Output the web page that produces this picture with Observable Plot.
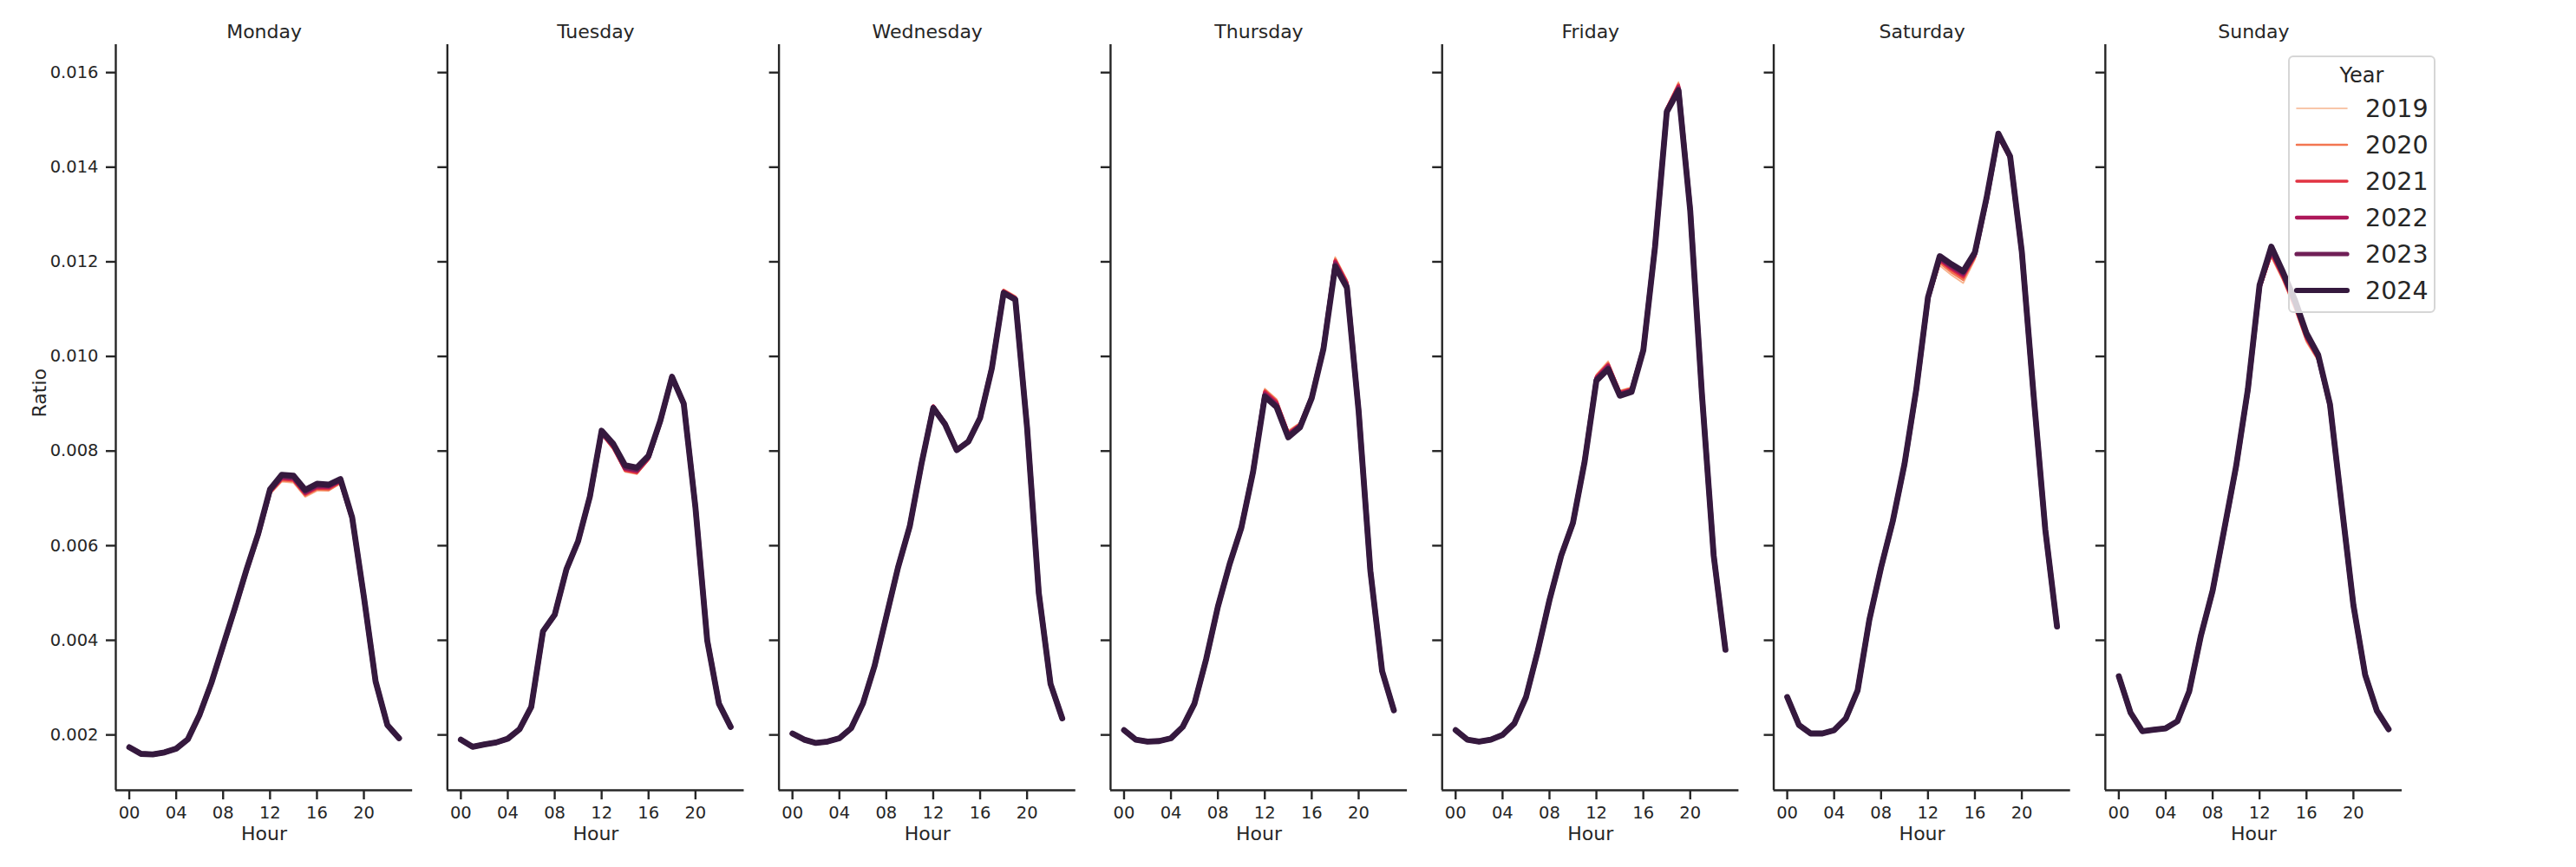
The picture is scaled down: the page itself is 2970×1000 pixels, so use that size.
<!DOCTYPE html>
<html><head><meta charset="utf-8">
<script src="https://cdn.jsdelivr.net/npm/d3@7"></script>
<script src="https://cdn.jsdelivr.net/npm/@observablehq/plot@0.6"></script>
<style>
body{margin:0;background:#fff;}
#wrap{position:relative;width:2970px;height:1000px;font-family:"DejaVu Sans";color:#262626;}
#wrap svg{display:block;}
#legend{position:absolute;left:2638px;top:64px;width:166px;height:293px;border:2px solid #d6d6d6;border-radius:6px;background:rgba(255,255,255,0.8);}
</style></head><body><div id="wrap"></div>
<script>
const days = ["Monday","Tuesday","Wednesday","Thursday","Friday","Saturday","Sunday"];
const hours = [0,1,2,3,4,5,6,7,8,9,10,11,12,13,14,15,16,17,18,19,20,21,22,23];
const years = [2019,2020,2021,2022,2023,2024];
const yearColors = ["#f6b48f","#f37651","#e13342","#ad1759","#701f57","#35193e"];
const yearWidths = [1.8,2.8,3.8,4.8,5.8,6.8];
const xTicks = [0,4,8,12,16,20];
const xTickLabels = ["00","04","08","12","16","20"];
const yTicks = [0.002,0.004,0.006,0.008,0.010,0.012,0.014,0.016];
const xDomain = [-1.15,24.15];
const yDomain = [0.00083,0.01659];

// Monday
const mon19 = [0.00175,0.00161,0.00160,0.00164,0.00170,0.00189,0.00240,0.00307,0.00385,0.00464,0.00545,0.00619,0.00709,0.00735,0.00733,0.00703,0.00716,0.00716,0.00731,0.00655,0.00490,0.00314,0.00222,0.00194];
const mon20 = [0.00175,0.00161,0.00160,0.00163,0.00170,0.00190,0.00241,0.00308,0.00386,0.00465,0.00546,0.00620,0.00711,0.00738,0.00736,0.00706,0.00719,0.00718,0.00733,0.00656,0.00490,0.00314,0.00222,0.00194];
const mon21 = [0.00175,0.00160,0.00159,0.00163,0.00171,0.00190,0.00242,0.00309,0.00387,0.00466,0.00547,0.00622,0.00713,0.00741,0.00739,0.00709,0.00722,0.00721,0.00735,0.00657,0.00491,0.00314,0.00222,0.00193];
const mon22 = [0.00174,0.00160,0.00159,0.00163,0.00171,0.00190,0.00242,0.00309,0.00388,0.00467,0.00548,0.00624,0.00715,0.00744,0.00742,0.00712,0.00725,0.00724,0.00737,0.00658,0.00491,0.00313,0.00221,0.00193];
const mon23 = [0.00174,0.00160,0.00159,0.00163,0.00171,0.00191,0.00243,0.00310,0.00388,0.00467,0.00549,0.00625,0.00717,0.00747,0.00745,0.00715,0.00728,0.00727,0.00739,0.00659,0.00492,0.00313,0.00221,0.00193];
const mon24 = [0.00174,0.00160,0.00159,0.00163,0.00171,0.00191,0.00243,0.00310,0.00389,0.00468,0.00550,0.00626,0.00719,0.00750,0.00748,0.00718,0.00731,0.00729,0.00741,0.00660,0.00492,0.00313,0.00221,0.00193];
// Tuesday
const tue19 = [0.00191,0.00176,0.00180,0.00184,0.00191,0.00211,0.00258,0.00417,0.00452,0.00548,0.00608,0.00701,0.00835,0.00803,0.00756,0.00751,0.00781,0.00859,0.00960,0.00905,0.00683,0.00402,0.00267,0.00218];
const tue20 = [0.00191,0.00176,0.00180,0.00184,0.00191,0.00211,0.00258,0.00417,0.00452,0.00548,0.00608,0.00702,0.00836,0.00805,0.00758,0.00753,0.00782,0.00860,0.00959,0.00904,0.00682,0.00402,0.00267,0.00218];
const tue21 = [0.00190,0.00175,0.00180,0.00184,0.00192,0.00211,0.00258,0.00418,0.00453,0.00549,0.00609,0.00702,0.00837,0.00807,0.00760,0.00755,0.00784,0.00861,0.00958,0.00903,0.00682,0.00401,0.00266,0.00217];
const tue22 = [0.00190,0.00175,0.00180,0.00184,0.00192,0.00212,0.00259,0.00418,0.00453,0.00549,0.00609,0.00703,0.00839,0.00810,0.00763,0.00758,0.00786,0.00862,0.00958,0.00902,0.00681,0.00401,0.00266,0.00217];
const tue23 = [0.00190,0.00175,0.00180,0.00184,0.00192,0.00212,0.00259,0.00418,0.00454,0.00550,0.00610,0.00704,0.00841,0.00812,0.00766,0.00761,0.00788,0.00863,0.00957,0.00901,0.00681,0.00401,0.00266,0.00217];
const tue24 = [0.00190,0.00175,0.00180,0.00184,0.00192,0.00212,0.00259,0.00419,0.00454,0.00550,0.00610,0.00704,0.00843,0.00815,0.00770,0.00765,0.00790,0.00864,0.00957,0.00900,0.00680,0.00400,0.00266,0.00217];
// Wednesday
const wed19 = [0.00204,0.00191,0.00183,0.00186,0.00193,0.00213,0.00265,0.00345,0.00449,0.00553,0.00641,0.00775,0.00897,0.00862,0.00806,0.00822,0.00873,0.00982,0.01142,0.01128,0.00856,0.00503,0.00309,0.00236];
const wed20 = [0.00204,0.00190,0.00183,0.00186,0.00193,0.00213,0.00265,0.00345,0.00449,0.00553,0.00641,0.00774,0.00896,0.00861,0.00805,0.00822,0.00872,0.00980,0.01140,0.01126,0.00855,0.00502,0.00309,0.00236];
const wed21 = [0.00203,0.00190,0.00183,0.00186,0.00193,0.00214,0.00266,0.00346,0.00450,0.00554,0.00641,0.00774,0.00895,0.00860,0.00804,0.00821,0.00872,0.00979,0.01139,0.01124,0.00854,0.00502,0.00309,0.00235];
const wed22 = [0.00203,0.00190,0.00183,0.00186,0.00193,0.00214,0.00266,0.00346,0.00450,0.00554,0.00641,0.00774,0.00894,0.00859,0.00803,0.00821,0.00871,0.00978,0.01137,0.01123,0.00852,0.00501,0.00308,0.00235];
const wed23 = [0.00203,0.00190,0.00183,0.00186,0.00193,0.00214,0.00266,0.00346,0.00450,0.00554,0.00641,0.00773,0.00892,0.00858,0.00802,0.00820,0.00870,0.00976,0.01135,0.01121,0.00851,0.00501,0.00308,0.00235];
const wed24 = [0.00203,0.00190,0.00183,0.00186,0.00193,0.00214,0.00266,0.00346,0.00450,0.00554,0.00641,0.00773,0.00891,0.00857,0.00802,0.00820,0.00870,0.00975,0.01134,0.01120,0.00850,0.00500,0.00308,0.00235];
// Thursday
const thu19 = [0.00211,0.00191,0.00186,0.00187,0.00193,0.00216,0.00265,0.00359,0.00470,0.00561,0.00640,0.00762,0.00932,0.00910,0.00843,0.00860,0.00918,0.01022,0.01210,0.01162,0.00892,0.00551,0.00337,0.00253];
const thu20 = [0.00211,0.00191,0.00186,0.00187,0.00193,0.00216,0.00265,0.00359,0.00470,0.00561,0.00640,0.00761,0.00929,0.00907,0.00840,0.00858,0.00917,0.01021,0.01206,0.01159,0.00890,0.00550,0.00336,0.00253];
const thu21 = [0.00210,0.00190,0.00186,0.00187,0.00193,0.00217,0.00266,0.00360,0.00471,0.00561,0.00639,0.00760,0.00926,0.00904,0.00838,0.00856,0.00916,0.01020,0.01203,0.01156,0.00889,0.00549,0.00336,0.00252];
const thu22 = [0.00210,0.00190,0.00186,0.00187,0.00193,0.00217,0.00266,0.00360,0.00471,0.00561,0.00639,0.00758,0.00922,0.00900,0.00835,0.00854,0.00914,0.01018,0.01199,0.01152,0.00887,0.00548,0.00335,0.00252];
const thu23 = [0.00210,0.00190,0.00186,0.00187,0.00193,0.00217,0.00266,0.00360,0.00471,0.00561,0.00638,0.00757,0.00918,0.00896,0.00832,0.00852,0.00913,0.01017,0.01194,0.01148,0.00885,0.00547,0.00335,0.00252];
const thu24 = [0.00210,0.00190,0.00186,0.00187,0.00193,0.00217,0.00266,0.00360,0.00471,0.00561,0.00638,0.00756,0.00915,0.00893,0.00829,0.00850,0.00912,0.01016,0.01190,0.01145,0.00884,0.00547,0.00335,0.00252];
// Friday
const fri19 = [0.00211,0.00191,0.00186,0.00190,0.00199,0.00223,0.00279,0.00376,0.00484,0.00580,0.00650,0.00783,0.00962,0.00990,0.00928,0.00935,0.01020,0.01238,0.01527,0.01580,0.01318,0.00924,0.00581,0.00381];
const fri20 = [0.00211,0.00191,0.00186,0.00190,0.00199,0.00223,0.00279,0.00376,0.00484,0.00580,0.00650,0.00782,0.00959,0.00986,0.00926,0.00933,0.01018,0.01237,0.01525,0.01576,0.01316,0.00923,0.00580,0.00381];
const fri21 = [0.00210,0.00190,0.00186,0.00190,0.00200,0.00224,0.00280,0.00377,0.00485,0.00579,0.00649,0.00781,0.00957,0.00983,0.00924,0.00931,0.01017,0.01236,0.01523,0.01573,0.01314,0.00922,0.00580,0.00380];
const fri22 = [0.00210,0.00190,0.00186,0.00190,0.00200,0.00224,0.00280,0.00377,0.00485,0.00579,0.00649,0.00780,0.00954,0.00980,0.00921,0.00929,0.01015,0.01234,0.01521,0.01569,0.01312,0.00921,0.00579,0.00380];
const fri23 = [0.00210,0.00190,0.00186,0.00190,0.00200,0.00224,0.00280,0.00377,0.00485,0.00579,0.00648,0.00779,0.00951,0.00976,0.00919,0.00927,0.01014,0.01233,0.01519,0.01565,0.01310,0.00920,0.00579,0.00380];
const fri24 = [0.00210,0.00190,0.00186,0.00190,0.00200,0.00224,0.00280,0.00377,0.00485,0.00579,0.00648,0.00778,0.00949,0.00973,0.00917,0.00925,0.01013,0.01232,0.01517,0.01562,0.01308,0.00919,0.00579,0.00380];
// Saturday
const sat19 = [0.00281,0.00222,0.00203,0.00203,0.00210,0.00234,0.00293,0.00441,0.00551,0.00649,0.00769,0.00924,0.01116,0.01192,0.01172,0.01155,0.01205,0.01325,0.01460,0.01415,0.01218,0.00918,0.00634,0.00430];
const sat20 = [0.00281,0.00222,0.00203,0.00203,0.00210,0.00234,0.00293,0.00442,0.00552,0.00650,0.00770,0.00926,0.01118,0.01198,0.01178,0.01162,0.01209,0.01328,0.01463,0.01417,0.01219,0.00918,0.00634,0.00430];
const sat21 = [0.00280,0.00221,0.00203,0.00203,0.00210,0.00235,0.00294,0.00442,0.00553,0.00651,0.00771,0.00927,0.01120,0.01203,0.01184,0.01168,0.01212,0.01330,0.01465,0.01419,0.01219,0.00918,0.00634,0.00429];
const sat22 = [0.00280,0.00221,0.00203,0.00203,0.00210,0.00235,0.00294,0.00443,0.00553,0.00651,0.00772,0.00928,0.01122,0.01206,0.01188,0.01173,0.01215,0.01332,0.01467,0.01420,0.01220,0.00919,0.00634,0.00429];
const sat23 = [0.00280,0.00221,0.00203,0.00203,0.00210,0.00235,0.00294,0.00443,0.00554,0.00652,0.00772,0.00929,0.01124,0.01209,0.01192,0.01177,0.01218,0.01334,0.01469,0.01422,0.01221,0.00919,0.00634,0.00429];
const sat24 = [0.00280,0.00221,0.00203,0.00203,0.00210,0.00235,0.00294,0.00443,0.00554,0.00652,0.00773,0.00930,0.01125,0.01212,0.01195,0.01180,0.01220,0.01336,0.01471,0.01423,0.01221,0.00919,0.00634,0.00429];
// Sunday
const sun19 = [0.00325,0.00248,0.00209,0.00211,0.00214,0.00229,0.00291,0.00408,0.00503,0.00633,0.00764,0.00924,0.01140,0.01210,0.01160,0.01100,0.01030,0.00990,0.00893,0.00684,0.00475,0.00328,0.00252,0.00213];
const sun20 = [0.00325,0.00248,0.00209,0.00211,0.00214,0.00229,0.00291,0.00409,0.00503,0.00634,0.00765,0.00925,0.01142,0.01214,0.01164,0.01104,0.01034,0.00993,0.00895,0.00684,0.00475,0.00328,0.00252,0.00213];
const sun21 = [0.00324,0.00247,0.00208,0.00211,0.00214,0.00229,0.00292,0.00409,0.00504,0.00634,0.00766,0.00926,0.01144,0.01218,0.01167,0.01108,0.01038,0.00996,0.00896,0.00685,0.00474,0.00327,0.00251,0.00212];
const sun22 = [0.00324,0.00247,0.00208,0.00211,0.00214,0.00229,0.00292,0.00410,0.00504,0.00635,0.00767,0.00927,0.01146,0.01222,0.01171,0.01112,0.01042,0.00998,0.00897,0.00685,0.00474,0.00327,0.00251,0.00212];
const sun23 = [0.00324,0.00247,0.00208,0.00211,0.00214,0.00229,0.00292,0.00410,0.00505,0.00635,0.00767,0.00929,0.01149,0.01227,0.01175,0.01116,0.01046,0.01001,0.00898,0.00685,0.00474,0.00327,0.00251,0.00212];
const sun24 = [0.00324,0.00247,0.00208,0.00211,0.00214,0.00229,0.00292,0.00410,0.00505,0.00636,0.00768,0.00930,0.01151,0.01232,0.01178,0.01120,0.01049,0.01003,0.00899,0.00685,0.00474,0.00327,0.00251,0.00212];

const seriesByYear = {
  2019: [mon19, tue19, wed19, thu19, fri19, sat19, sun19],
  2020: [mon20, tue20, wed20, thu20, fri20, sat20, sun20],
  2021: [mon21, tue21, wed21, thu21, fri21, sat21, sun21],
  2022: [mon22, tue22, wed22, thu22, fri22, sat22, sun22],
  2023: [mon23, tue23, wed23, thu23, fri23, sat23, sun23],
  2024: [mon24, tue24, wed24, thu24, fri24, sat24, sun24]
};

const rows = [];
for (const yr of years) {
  seriesByYear[yr].forEach((arr, di) => {
    arr.forEach((v, hi) => rows.push({year: yr, day: days[di], hour: hours[hi], value: v}));
  });
}

const ink = "#262626";
const chart = Plot.plot({
  width: 2970, height: 1000,
  marginTop: 51, marginBottom: 89, marginLeft: 133, marginRight: 201,
  style: {fontFamily: "DejaVu Sans", color: ink, background: "transparent", fontSize: "19.5px"},
  fx: {domain: days, paddingInner: 0.105, paddingOuter: 0, round: false, label: null},
  x: {domain: xDomain, label: null},
  y: {domain: yDomain, label: null},
  marks: [
    ...years.map((yr, i) => Plot.line(rows.filter(r => r.year === yr), {
      fx: "day", x: "hour", y: "value",
      stroke: yearColors[i], strokeWidth: yearWidths[i],
      strokeLinejoin: "round", strokeLinecap: "round"
    })),
    Plot.ruleX([xDomain[0]], {stroke: ink, strokeWidth: 2.4}),
    Plot.ruleY([yDomain[0]], {stroke: ink, strokeWidth: 2.4}),
    Plot.axisX({ticks: xTicks, tickFormat: d => xTickLabels[xTicks.indexOf(d)], tickSize: 11, tickPadding: 8, fontSize: 19.5, strokeWidth: 2.4, label: null}),
    Plot.axisY({ticks: yTicks, tickFormat: () => "", tickSize: 11, strokeWidth: 2.4, facetAnchor: null, label: null}),
    Plot.axisY({ticks: yTicks, tickFormat: d3.format(".3f"), tickSize: 0, tickPadding: 20, fontSize: 19.5, label: null}),
    Plot.axisFx({anchor: "top", tickSize: 0, tickPadding: 8, fontSize: 22, label: null}),
    Plot.text(days, {fx: d => d, text: () => "Hour", frameAnchor: "bottom", lineAnchor: "bottom", dy: 57, fontSize: 22, fill: ink}),
    Plot.text([days[0]], {fx: d => d, text: () => "Ratio", frameAnchor: "left", rotate: -90, dx: -88, fontSize: 22, fill: ink})
  ]
});
const wrap = document.getElementById("wrap");
wrap.appendChild(chart);

// Legend (line-width + colour swatches)
const leg = d3.select(wrap).append("div").attr("id", "legend");
const lsvg = leg.append("svg").attr("width", 166).attr("height", 293)
  .style("font-family", "DejaVu Sans").style("fill", ink);
lsvg.append("text").attr("x", 83).attr("y", 29).attr("text-anchor", "middle")
  .style("font-size", "24px").text("Year");
years.forEach((yr, i) => {
  const cy = 59 + 42 * i;
  lsvg.append("line").attr("x1", 8).attr("x2", 66).attr("y1", cy).attr("y2", cy)
    .attr("stroke", yearColors[i]).attr("stroke-width", yearWidths[i] * 0.9).attr("stroke-linecap", "round");
  lsvg.append("text").attr("x", 87).attr("y", cy + 10).style("font-size", "28.5px").text(String(yr));
});
</script></body></html>
